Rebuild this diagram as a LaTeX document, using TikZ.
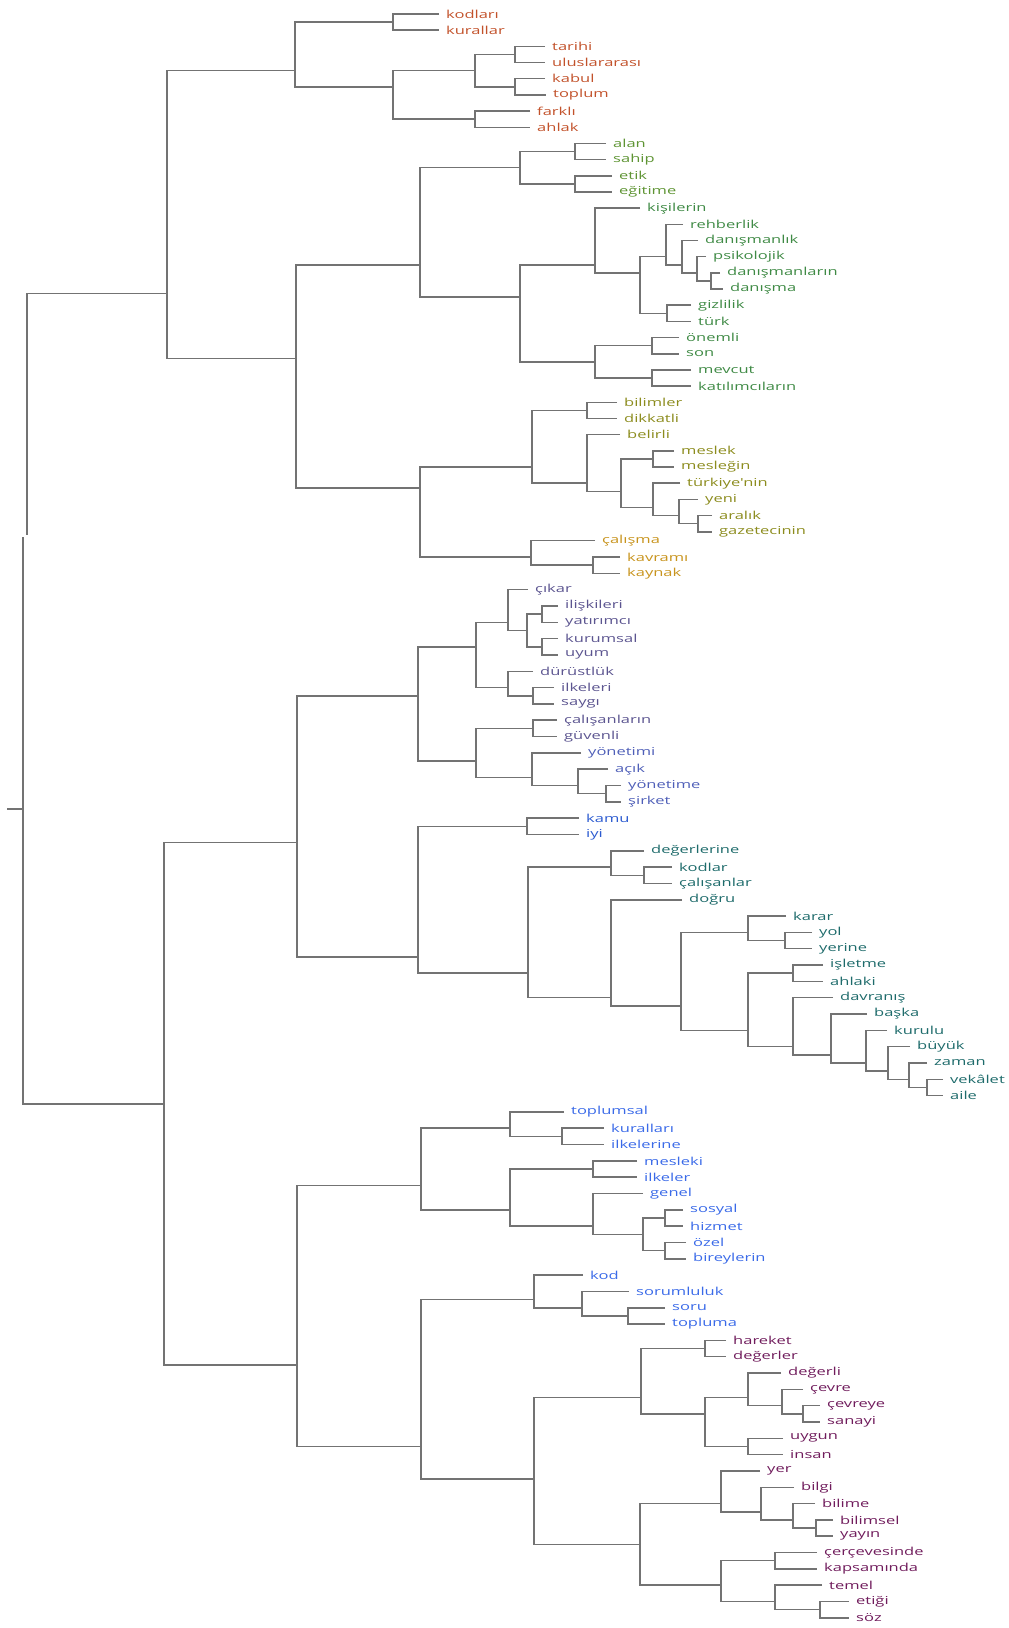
\documentclass[tikz,border=0pt]{standalone}
\usepackage{fontspec}
\newfontfamily\leaffont[FakeStretch=1.5]{Open Sans}
\definecolor{wred}{HTML}{C2522B}
\definecolor{wlime}{HTML}{5E9433}
\definecolor{wgreen}{HTML}{3F8A45}
\definecolor{wolive}{HTML}{8C8C1E}
\definecolor{wochre}{HTML}{C8941E}
\definecolor{wslate}{HTML}{5C5590}
\definecolor{windigo}{HTML}{4F5FB8}
\definecolor{wblue}{HTML}{2C5BD0}
\definecolor{wteal}{HTML}{1E6B6B}
\definecolor{wsky}{HTML}{3A6AE8}
\definecolor{wplum}{HTML}{701C5C}
% y of leaf i (the picture is two screenshots put together after leaf 33)
\pgfmathdeclarefunction{leafy}{1}{\pgfmathparse{(#1<34)*(14+(#1-1)*16.18)+(#1>33)*(540.7+(#1-34)*16.32)}}
\begin{document}
\begin{tikzpicture}[x=1pt,y=-1pt,
  branch/.style={draw=black!55,line width=1.5pt},
  leaf/.style={anchor=west,inner xsep=7pt,inner ysep=0pt,font=\leaffont\fontsize{11}{11}\selectfont}]
\useasboundingbox (0,0) rectangle (1009,1628);

% clusters: first leaf / last leaf / x / last leaf of the upper part
\def\clusters{1/36/167/8, 1/8/295/2, 1/2/393/1, 3/8/393/6, 3/6/475/4, 3/4/515/3,
  5/6/515/5, 7/8/475/7, 9/36/296/24, 9/24/420/12, 9/12/520/10, 9/10/575/9,
  11/12/575/11, 13/24/520/20, 13/20/595/13, 14/20/640/18, 14/18/666/14,
  15/18/682/15, 16/18/697/16, 17/18/711/17, 19/20/667/19, 21/24/595/22,
  21/22/652/21, 23/24/652/23, 25/36/420/33, 25/33/532/26, 25/26/587/25,
  27/33/587/27, 28/33/621/29, 28/29/653/28, 30/33/653/30, 31/33/679/31,
  32/33/698/32, 34/36/531/34, 35/36/593/35,
  37/100/164/68, 37/68/297/50, 37/50/418/44, 37/44/476/41, 37/41/508/37,
  38/41/527/39, 38/39/542/38, 40/41/542/40, 42/44/508/42, 43/44/533/43,
  45/50/476/46, 45/46/533/45, 47/50/532/47, 48/50/578/48, 49/50/606/49,
  51/68/418/52, 51/52/527/51, 53/68/528/55, 53/55/611/53, 54/55/644/54,
  56/68/611/56, 57/68/681/59, 57/59/748/57, 58/59/785/58, 60/68/748/61,
  60/61/793/60, 62/68/793/62, 63/68/831/63, 64/68/866/64, 65/68/888/65,
  66/68/909/66, 67/68/927/67,
  69/100/297/78, 69/78/421/71, 69/71/510/69, 70/71/562/70, 72/78/510/73,
  72/73/593/72, 74/78/593/74, 75/78/643/76, 75/76/665/75, 77/78/665/77,
  79/100/421/82, 79/82/534/79, 80/82/582/80, 81/82/628/81, 83/100/534/90,
  83/90/641/84, 83/84/705/83, 85/90/705/88, 85/88/748/85, 86/88/782/86,
  87/88/803/87, 89/90/748/89, 91/100/640/95, 91/95/721/91, 92/95/761/92,
  93/95/793/93, 94/95/816/94, 96/100/721/97, 96/97/775/96, 98/100/775/98,
  99/100/820/99}

% words
\foreach \i/\w/\tx/\col in {1/kodları/446/wred, 2/kurallar/446/wred,
  3/tarihi/552/wred, 4/uluslararası/552/wred, 5/kabul/552/wred,
  6/toplum/553/wred, 7/farklı/537/wred, 8/ahlak/537/wred,
  9/alan/613/wlime, 10/sahip/613/wlime, 11/etik/619/wlime, 12/eğitime/619/wlime,
  13/kişilerin/647/wgreen, 14/rehberlik/690/wgreen, 15/danışmanlık/705/wgreen,
  16/psikolojik/713/wgreen, 17/danışmanların/727/wgreen, 18/danışma/730/wgreen,
  19/gizlilik/698/wgreen, 20/türk/698/wgreen, 21/önemli/686/wgreen,
  22/son/686/wgreen, 23/mevcut/698/wgreen, 24/katılımcıların/698/wgreen,
  25/bilimler/624/wolive, 26/dikkatli/624/wolive, 27/belirli/627/wolive,
  28/meslek/681/wolive, 29/mesleğin/681/wolive, 30/türkiye'nin/687/wolive,
  31/yeni/705/wolive, 32/aralık/719/wolive, 33/gazetecinin/719/wolive,
  34/çalışma/602/wochre, 35/kavramı/627/wochre, 36/kaynak/627/wochre,
  37/çıkar/535/wslate, 38/ilişkileri/565/wslate, 39/yatırımcı/565/wslate,
  40/kurumsal/565/wslate, 41/uyum/565/wslate, 42/dürüstlük/540/wslate,
  43/ilkeleri/561/wslate, 44/saygı/561/wslate, 45/çalışanların/564/wslate,
  46/güvenli/564/wslate, 47/yönetimi/588/windigo, 48/açık/615/windigo,
  49/yönetime/628/windigo, 50/şirket/628/windigo,
  51/kamu/586/wblue, 52/iyi/586/wblue,
  53/değerlerine/651/wteal, 54/kodlar/679/wteal, 55/çalışanlar/679/wteal,
  56/doğru/689/wteal, 57/karar/793/wteal, 58/yol/819/wteal, 59/yerine/819/wteal,
  60/işletme/830/wteal, 61/ahlaki/830/wteal, 62/davranış/840/wteal,
  63/başka/874/wteal, 64/kurulu/894/wteal, 65/büyük/917/wteal,
  66/zaman/934/wteal, 67/vekâlet/950/wteal, 68/aile/950/wteal,
  69/toplumsal/571/wsky, 70/kuralları/611/wsky, 71/ilkelerine/611/wsky,
  72/mesleki/644/wsky, 73/ilkeler/644/wsky, 74/genel/650/wsky,
  75/sosyal/690/wsky, 76/hizmet/690/wsky, 77/özel/693/wsky,
  78/bireylerin/693/wsky, 79/kod/590/wsky, 80/sorumluluk/636/wsky,
  81/soru/672/wsky, 82/topluma/672/wsky,
  83/hareket/733/wplum, 84/değerler/733/wplum, 85/değerli/788/wplum,
  86/çevre/810/wplum, 87/çevreye/827/wplum, 88/sanayi/827/wplum,
  89/uygun/790/wplum, 90/insan/790/wplum, 91/yer/767/wplum,
  92/bilgi/801/wplum, 93/bilime/822/wplum, 94/bilimsel/840/wplum,
  95/yayın/840/wplum, 96/çerçevesinde/824/wplum, 97/kapsamında/824/wplum,
  98/temel/829/wplum, 99/etiği/856/wplum, 100/söz/856/wplum}
  \node[leaf,text=\col] (L\i) at (\tx-7,{leafy(\i)}) {\w};

% joins
\foreach \a/\b/\x/\m in \clusters
  \coordinate (c\a x\b) at (\x,{(leafy(\a)+leafy(\b))/2});

\foreach \a/\b/\x/\m in \clusters {
  \pgfmathtruncatemacro\n{\m+1}
  \ifnum\a=\m \def\up{L\a}\else \def\up{c\a x\m}\fi
  \ifnum\n=\b \def\down{L\b}\else \def\down{c\n x\b}\fi
  \draw[branch] (\up) -| (c\a x\b) |- (\down);
}

% root
\coordinate (rtop) at (27,535);
\coordinate (rbot) at (23,537);
\coordinate (root) at (23,809);
\coordinate (stub) at (7,809);
\draw[branch] (c1x36) -| (rtop);
\draw[branch] (rbot) |- (c37x100);
\draw[branch] (stub) -- (root);
\end{tikzpicture}
\end{document}
